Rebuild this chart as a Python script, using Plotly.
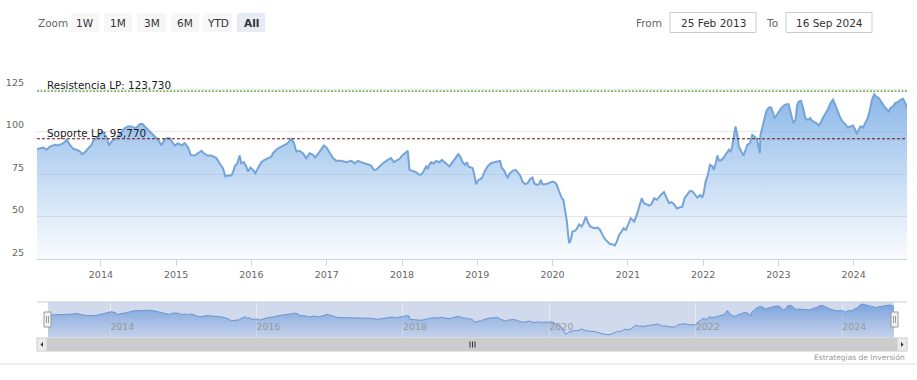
import pandas as pd
import plotly.graph_objects as go

# ---------------- data ----------------
# dates as decimal years
fecha_decimal = [
    2013.151, 2013.236, 2013.280, 2013.324, 2013.390, 2013.434, 2013.501, 2013.545, 2013.589, 2013.634,
    2013.678, 2013.722, 2013.744, 2013.788, 2013.832, 2013.877, 2013.899, 2013.943, 2013.987, 2014.018,
    2014.053, 2014.076, 2014.106, 2014.133, 2014.164, 2014.208, 2014.239, 2014.274, 2014.318, 2014.363,
    2014.407, 2014.451, 2014.487, 2014.517, 2014.553, 2014.584, 2014.628, 2014.672, 2014.725, 2014.761,
    2014.805, 2014.841, 2014.871, 2014.915, 2014.938, 2014.981, 2015.026, 2015.070, 2015.114, 2015.159,
    2015.194, 2015.247, 2015.292, 2015.336, 2015.371, 2015.415, 2015.468, 2015.534, 2015.578, 2015.623,
    2015.654, 2015.689, 2015.733, 2015.756, 2015.777, 2015.813, 2015.844, 2015.866, 2015.902, 2015.932,
    2015.955, 2015.989, 2016.021, 2016.052, 2016.088, 2016.131, 2016.175, 2016.220, 2016.264, 2016.286,
    2016.330, 2016.374, 2016.419, 2016.463, 2016.493, 2016.529, 2016.565, 2016.595, 2016.639, 2016.684,
    2016.728, 2016.772, 2016.817, 2016.847, 2016.891, 2016.927, 2016.963, 2016.997, 2017.037, 2017.082,
    2017.126, 2017.192, 2017.259, 2017.325, 2017.369, 2017.414, 2017.458, 2017.501, 2017.546, 2017.590,
    2017.626, 2017.656, 2017.700, 2017.745, 2017.812, 2017.855, 2017.891, 2017.922, 2017.966, 2018.011,
    2018.054, 2018.077, 2018.098, 2018.143, 2018.187, 2018.231, 2018.263, 2018.289, 2018.320, 2018.342,
    2018.363, 2018.386, 2018.422, 2018.452, 2018.496, 2018.528, 2018.562, 2018.598, 2018.629, 2018.651,
    2018.687, 2018.717, 2018.748, 2018.775, 2018.806, 2018.837, 2018.863, 2018.881, 2018.907, 2018.939,
    2018.960, 2018.983, 2019.013, 2019.049, 2019.072, 2019.102, 2019.138, 2019.182, 2019.225, 2019.271,
    2019.305, 2019.324, 2019.358, 2019.403, 2019.424, 2019.469, 2019.513, 2019.536, 2019.570, 2019.602,
    2019.633, 2019.668, 2019.703, 2019.735, 2019.756, 2019.788, 2019.822, 2019.845, 2019.867, 2019.911,
    2019.955, 2020.000, 2020.031, 2020.057, 2020.088, 2020.119, 2020.146, 2020.163, 2020.190, 2020.207,
    2020.220, 2020.243, 2020.265, 2020.296, 2020.322, 2020.353, 2020.385, 2020.411, 2020.442, 2020.464,
    2020.499, 2020.531, 2020.561, 2020.597, 2020.631, 2020.663, 2020.694, 2020.729, 2020.764, 2020.796,
    2020.826, 2020.853, 2020.883, 2020.915, 2020.942, 2020.972, 2021.003, 2021.038, 2021.061, 2021.082,
    2021.118, 2021.149, 2021.184, 2021.215, 2021.251, 2021.281, 2021.313, 2021.347, 2021.383, 2021.414,
    2021.446, 2021.480, 2021.516, 2021.546, 2021.578, 2021.613, 2021.649, 2021.679, 2021.724, 2021.754,
    2021.790, 2021.825, 2021.857, 2021.887, 2021.923, 2021.958, 2021.989, 2022.011, 2022.033, 2022.064,
    2022.090, 2022.122, 2022.143, 2022.166, 2022.188, 2022.210, 2022.232, 2022.268, 2022.298, 2022.321,
    2022.342, 2022.365, 2022.387, 2022.408, 2022.431, 2022.454, 2022.475, 2022.507, 2022.533, 2022.564,
    2022.586, 2022.621, 2022.652, 2022.683, 2022.719, 2022.740, 2022.753, 2022.763, 2022.785, 2022.816,
    2022.842, 2022.873, 2022.905, 2022.931, 2022.948, 2022.975, 2023.005, 2023.037, 2023.072, 2023.108,
    2023.138, 2023.161, 2023.196, 2023.227, 2023.249, 2023.271, 2023.302, 2023.329, 2023.359, 2023.390,
    2023.426, 2023.448, 2023.479, 2023.505, 2023.536, 2023.558, 2023.594, 2023.625, 2023.655, 2023.691,
    2023.727, 2023.757, 2023.788, 2023.824, 2023.859, 2023.890, 2023.920, 2023.956, 2023.992, 2024.022,
    2024.045, 2024.066, 2024.089, 2024.125, 2024.155, 2024.186, 2024.212, 2024.244, 2024.274, 2024.301,
    2024.332, 2024.363, 2024.398, 2024.434, 2024.464, 2024.487, 2024.522, 2024.553, 2024.584, 2024.620,
    2024.655, 2024.686, 2024.710,
]
precio = [
    89.8, 90.6, 89.3, 91.2, 92.2, 91.8, 93.2, 95.1, 92.2, 89.9,
    89.3, 88.3, 86.7, 87.9, 90.2, 92.2, 94.6, 96.1, 98.1, 100.0,
    98.1, 96.5, 91.8, 93.8, 95.1, 96.1, 98.1, 100.0, 102.0, 103.0,
    103.0, 102.0, 103.0, 104.4, 104.4, 103.0, 101.0, 99.1, 97.1, 95.1,
    91.8, 95.1, 96.1, 96.1, 94.6, 91.8, 93.2, 91.8, 93.2, 90.6,
    86.3, 85.9, 87.3, 88.7, 87.3, 85.9, 86.0, 84.4, 81.4, 78.5,
    73.6, 74.2, 74.2, 76.1, 79.5, 81.4, 85.9, 81.4, 82.0, 79.5,
    76.5, 78.9, 77.5, 75.5, 78.5, 82.0, 83.4, 84.4, 85.3, 87.3,
    89.3, 90.6, 91.6, 92.6, 93.8, 95.7, 93.2, 88.3, 88.7, 87.3,
    84.4, 87.3, 86.3, 84.8, 87.3, 89.3, 91.8, 90.6, 87.3, 84.4,
    82.8, 82.8, 82.0, 82.8, 81.4, 82.8, 82.0, 81.4, 80.8, 80.0,
    77.5, 77.5, 79.5, 81.4, 83.4, 84.4, 82.0, 82.8, 84.0, 86.3,
    88.3, 88.7, 77.5, 76.9, 76.1, 74.6, 75.0, 76.9, 79.5, 78.1,
    80.4, 82.0, 81.4, 82.8, 82.0, 83.4, 82.4, 80.8, 79.5, 80.8,
    82.8, 85.3, 86.7, 85.3, 82.0, 80.4, 82.0, 79.5, 78.9, 78.5,
    75.0, 69.1, 71.6, 72.2, 73.6, 76.9, 79.5, 81.4, 82.0, 82.4,
    82.8, 78.9, 76.9, 72.6, 75.0, 76.9, 77.5, 76.1, 74.2, 70.6,
    69.1, 69.7, 72.2, 73.0, 69.7, 68.7, 69.1, 71.6, 69.1, 69.1,
    69.7, 70.6, 70.2, 68.7, 64.8, 61.2, 59.8, 54.9, 47.1, 39.3,
    34.4, 36.3, 41.2, 41.6, 42.8, 45.5, 44.2, 46.1, 50.0, 47.1,
    44.2, 43.6, 43.2, 43.6, 42.2, 39.3, 36.9, 35.3, 33.8, 33.8,
    33.0, 35.3, 39.3, 41.2, 43.2, 42.2, 45.5, 49.1, 48.1, 47.1,
    51.0, 55.9, 60.8, 57.9, 57.3, 56.5, 57.3, 60.8, 59.9, 61.8,
    63.2, 64.4, 60.8, 57.9, 58.5, 57.3, 54.9, 55.3, 55.9, 60.8,
    63.2, 65.1, 64.8, 63.2, 61.2, 62.8, 61.2, 64.8, 70.6, 74.6,
    80.4, 79.5, 77.5, 81.4, 86.0, 83.0, 83.0, 84.4, 86.3, 87.3,
    89.3, 88.3, 91.2, 97.1, 103.0, 98.1, 91.2, 88.3, 85.9, 89.3,
    92.2, 93.2, 98.1, 97.1, 95.1, 90.2, 87.3, 98.1, 102.0, 107.9,
    112.2, 114.2, 114.2, 110.8, 107.9, 109.5, 111.8, 113.8, 115.3, 116.1,
    116.1, 111.8, 105.0, 106.9, 115.7, 117.7, 118.1, 113.8, 107.9, 106.9,
    107.9, 106.3, 105.5, 105.0, 103.6, 105.0, 108.3, 110.2, 112.8, 116.7,
    118.7, 115.7, 111.8, 107.9, 105.5, 104.4, 102.4, 103.0, 103.6, 101.0,
    98.5, 101.0, 103.0, 102.4, 105.0, 107.9, 112.2, 118.7, 122.0, 120.6,
    119.7, 117.3, 115.3, 113.4, 111.8, 113.8, 114.8, 116.7, 117.3, 118.7,
    119.3, 116.7, 113.8,
]
resistencia_lp = 123.730
soporte_lp = 95.770
y_ticks = [25, 50, 75, 100, 125, 150]
y_tick_text = ["25", "50", "75", "100", "125", ""]
botones_zoom = ["1W", "1M", "3M", "6M", "YTD", "All"]
boton_activo = "All"
credito = "Estrategias de Inversión"


def to_date(t):
    y = int(t)
    start = pd.Timestamp(year=y, month=1, day=1)
    ndays = (pd.Timestamp(year=y + 1, month=1, day=1) - start).days
    return (start + pd.Timedelta(days=round((t - y) * ndays))).normalize()


fechas = [to_date(t) for t in fecha_decimal]
fechas[0] = pd.Timestamp("2013-02-25")
fechas[-1] = pd.Timestamp("2024-09-16")

W, H = 917, 380
FONT = "DejaVu Sans"


def px(x):
    return x / W


def py(y):
    return 1 - y / H


fig = go.Figure()

# main series
fig.add_trace(go.Scatter(
    x=fechas, y=precio, mode="lines", xaxis="x", yaxis="y",
    line=dict(color="rgb(116,164,216)", width=2),
    fill="tozeroy",
    fillgradient=dict(type="vertical", start=25, stop=135,
                      colorscale=[[0, "rgba(124,176,232,0.04)"], [1, "rgba(112,166,226,0.92)"]]),
    hoverinfo="skip", showlegend=False,
))

# navigator series
fig.add_trace(go.Scatter(
    x=fechas, y=precio, mode="lines", xaxis="x2", yaxis="y2",
    line=dict(color="rgb(105,148,208)", width=1),
    fill="tozeroy",
    fillgradient=dict(type="vertical", start=25, stop=128,
                      colorscale=[[0, "rgba(120,160,220,0.15)"], [1, "rgba(100,150,218,0.85)"]]),
    hoverinfo="skip", showlegend=False,
))

shapes = []
annotations = []

# support / resistance lines
shapes.append(dict(type="line", xref="x domain", yref="y", x0=0, x1=1,
                   y0=resistencia_lp, y1=resistencia_lp,
                   line=dict(color="#4f9a2f", width=1.2, dash="2px,1.5px")))
shapes.append(dict(type="line", xref="x domain", yref="y", x0=0, x1=1,
                   y0=soporte_lp, y1=soporte_lp,
                   line=dict(color="#6b1010", width=1, dash="3px,2px")))
for label, val in [("Resistencia LP", resistencia_lp), ("Soporte LP", soporte_lp)]:
    annotations.append(dict(
        xref="paper", yref="y", x=px(45), y=val, xanchor="left", yanchor="bottom",
        text=f"{label}: {val:.3f}".replace(".", ","), showarrow=False, yshift=-2,
        font=dict(family=FONT, size=10.4, color="#1a1a1a")))

# navigator mask / outline
shapes.append(dict(type="rect", xref="x2 domain", yref="y2 domain", x0=0, x1=1, y0=0, y1=1,
                   fillcolor="rgba(102,133,194,0.3)", line=dict(width=0), layer="below"))
shapes.append(dict(type="line", xref="paper", yref="paper", x0=px(37), x1=px(907), y0=py(302), y1=py(302),
                   line=dict(color="#cccccc", width=1)))

# handles
for hx in (47.5, 894.5):
    shapes.append(dict(type="rect", xref="paper", yref="paper", x0=px(hx - 3.5), x1=px(hx + 3.5),
                       y0=py(327), y1=py(312), fillcolor="#f2f2f2", line=dict(color="#999999", width=1)))
    for lx in (hx - 1, hx + 1):
        shapes.append(dict(type="line", xref="paper", yref="paper", x0=px(lx), x1=px(lx),
                           y0=py(323), y1=py(316), line=dict(color="#999999", width=1)))

# scrollbar
shapes.append(dict(type="rect", xref="paper", yref="paper", x0=px(37), x1=px(907), y0=py(351), y1=py(338),
                   fillcolor="#f2f2f2", line=dict(color="#f2f2f2", width=0)))
shapes.append(dict(type="rect", xref="paper", yref="paper", x0=px(47), x1=px(897), y0=py(351), y1=py(338),
                   fillcolor="#cccccc", line=dict(color="#cccccc", width=1)))
for bx0, bx1 in ((37, 47), (897, 907)):
    shapes.append(dict(type="rect", xref="paper", yref="paper", x0=px(bx0), x1=px(bx1), y0=py(351), y1=py(338),
                       fillcolor="#ebebeb", line=dict(color="#cccccc", width=1)))
# arrows
shapes.append(dict(type="path", xref="paper", yref="paper",
                   path=f"M {px(40.5)} {py(344.5)} L {px(43)} {py(342)} L {px(43)} {py(347)} Z",
                   fillcolor="#333333", line=dict(width=0)))
shapes.append(dict(type="path", xref="paper", yref="paper",
                   path=f"M {px(903.5)} {py(344.5)} L {px(901)} {py(342)} L {px(901)} {py(347)} Z",
                   fillcolor="#333333", line=dict(width=0)))
# rifles
for rx in (470, 472.5, 475):
    shapes.append(dict(type="line", xref="paper", yref="paper", x0=px(rx), x1=px(rx), y0=py(341.5), y1=py(347.5),
                       line=dict(color="#333333", width=1)))

# bottom separator
shapes.append(dict(type="line", xref="paper", yref="paper", x0=0, x1=1, y0=py(364), y1=py(364),
                   line=dict(color="#dddddd", width=1)))
annotations.append(dict(xref="paper", yref="paper", x=px(907), y=py(357.5), xanchor="right", yanchor="middle",
                        text=credito, showarrow=False, font=dict(family=FONT, size=7.5, color="#999999")))

# range selector
annotations.append(dict(xref="paper", yref="paper", x=px(36), y=py(22.5), xanchor="left", yanchor="middle",
                        text="Zoom", showarrow=False, font=dict(family=FONT, size=10.5, color="#666666")))
btn_x = [(71, 99), (104, 132), (137, 166), (171, 199), (203, 232), (237, 265)]
for name, (bx0, bx1) in zip(botones_zoom, btn_x):
    active = name == boton_activo
    shapes.append(dict(type="rect", xref="paper", yref="paper", x0=px(bx0), x1=px(bx1), y0=py(32), y1=py(13),
                       fillcolor="#e6ebf5" if active else "#f7f7f7", line=dict(width=0)))
    annotations.append(dict(xref="paper", yref="paper", x=px((bx0 + bx1) / 2), y=py(22.5),
                            xanchor="center", yanchor="middle",
                            text=f"<b>{name}</b>" if active else name, showarrow=False,
                            font=dict(family=FONT, size=10.5, color="#333333")))

# date inputs
annotations.append(dict(xref="paper", yref="paper", x=px(663.5), y=py(22.5), xanchor="right", yanchor="middle",
                        text="From", showarrow=False, font=dict(family=FONT, size=10.5, color="#666666")))
annotations.append(dict(xref="paper", yref="paper", x=px(779.5), y=py(22.5), xanchor="right", yanchor="middle",
                        text="To", showarrow=False, font=dict(family=FONT, size=10.5, color="#666666")))
for (bx0, bx1), d in (((670, 756), fechas[0]), ((786, 872), fechas[-1])):
    shapes.append(dict(type="rect", xref="paper", yref="paper", x0=px(bx0), x1=px(bx1), y0=py(32.5), y1=py(12.5),
                       fillcolor="white", line=dict(color="#cccccc", width=1)))
    annotations.append(dict(xref="paper", yref="paper", x=px((bx0 + bx1) / 2), y=py(22.5),
                            xanchor="center", yanchor="middle",
                            text=f"{d.day} {d.strftime('%b %Y')}", showarrow=False,
                            font=dict(family=FONT, size=10.5, color="#333333")))

fig.update_layout(
    width=W, height=H,
    margin=dict(l=0, r=0, t=0, b=0),
    paper_bgcolor="white", plot_bgcolor="white",
    showlegend=False,
    font=dict(family=FONT, color="#666666"),
    xaxis=dict(domain=[px(37), px(907)], anchor="y", type="date",
               range=[fechas[0], fechas[-1]],
               tick0="2014-01-01", dtick="M12", tickformat="%Y",
               showgrid=False, showline=True, linecolor="#ccd6eb", linewidth=1,
               ticks="outside", ticklen=6, tickcolor="#ccd6eb",
               tickfont=dict(family=FONT, size=9.5, color="#666666"),
               zeroline=False, fixedrange=True),
    yaxis=dict(domain=[py(259.2), py(46.5)], anchor="x", range=[25, 150],
               tickmode="array", tickvals=y_ticks, ticktext=y_tick_text,
               showgrid=True, gridcolor="#e6e6e6", gridwidth=1,
               showline=False, zeroline=False, ticks="",
               ticklabelposition="outside top", ticklabelstandoff=12,
               tickfont=dict(family=FONT, size=9.5, color="#666666"), fixedrange=True),
    xaxis2=dict(domain=[px(48), px(894)], anchor="y2", type="date",
                range=[fechas[0], fechas[-1]],
                tick0="2014-01-01", dtick="M24", tickformat="%Y",
                showgrid=True, gridcolor="rgba(235,235,235,0.9)", gridwidth=1,
                showline=False, zeroline=False, ticks="",
                ticklabelposition="inside right",
                tickfont=dict(family=FONT, size=9.5, color="#999999"), fixedrange=True),
    yaxis2=dict(domain=[py(337.5), py(302)], anchor="x2", range=[25, 128],
                showgrid=False, showticklabels=False, zeroline=False, showline=False, fixedrange=True),
    shapes=shapes,
    annotations=annotations,
)

fig.write_html("out.html", config={"displayModeBar": False},
               post_script="document.body.style.margin='0';")
